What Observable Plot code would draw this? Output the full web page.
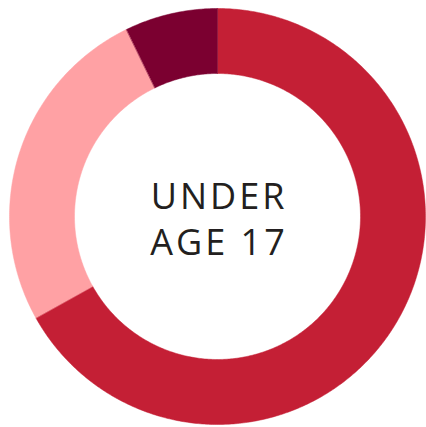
<!DOCTYPE html>
<html>
<head>
<meta charset="utf-8">
<script src="https://cdn.jsdelivr.net/npm/d3@7"></script>
<script src="https://cdn.jsdelivr.net/npm/@observablehq/plot@0.6"></script>
<style>
  html, body { margin: 0; padding: 0; background: #fff; }
  #chart svg { display: block; }
</style>
</head>
<body>
<div id="chart"></div>
<script>
const categories = ["Segment A", "Segment B", "Segment C"];
const values = [66.9, 25.9, 7.2];
const palette = ["#C41F35", "#FFA1A4", "#7B0030"];
const centerLines = ["UNDER", "AGE 17"];

const outerR = 1;
const innerR = 143 / 208;

const arcs = d3.pie().sort(null).value(d => d.value)(
  categories.map((c, i) => ({ category: c, value: values[i] }))
);

// Build slice outlines from the pie angles (clockwise from 12 o'clock)
const outline = [];
arcs.forEach(a => {
  const n = Math.max(8, Math.ceil((a.endAngle - a.startAngle) / 0.01));
  const pts = [];
  for (let k = 0; k <= n; k++) {
    const t = a.startAngle + (a.endAngle - a.startAngle) * k / n;
    pts.push({ t, r: outerR });
  }
  for (let k = n; k >= 0; k--) {
    const t = a.startAngle + (a.endAngle - a.startAngle) * k / n;
    pts.push({ t, r: innerR });
  }
  pts.forEach(p => outline.push({
    category: a.data.category,
    x: p.r * Math.sin(p.t),
    y: p.r * Math.cos(p.t)
  }));
});

const chart = Plot.plot({
  width: 426,
  height: 427,
  marginLeft: 9,
  marginRight: 1,
  marginTop: 8,
  marginBottom: 3,
  x: { domain: [-1, 1], axis: null },
  y: { domain: [-1, 1], axis: null },
  color: { domain: categories, range: palette },
  style: { background: "#fff" },
  marks: [
    Plot.line(outline, {
      x: "x", y: "y", z: "category",
      fill: "category", stroke: "category", strokeWidth: 0.5,
      curve: "linear-closed"
    }),
    Plot.text([centerLines.join("\n")], {
      x: 0, y: 0, text: d => d,
      dy: 1, dx: 1.5,
      fontSize: 36,
      lineHeight: 1.28,
      fill: "#231F20",
      fontFamily: "'Open Sans', sans-serif",
      fontWeight: 400,
      textAnchor: "middle",
      lineAnchor: "middle"
    })
  ]
});

chart.querySelectorAll("text").forEach(t => t.style.letterSpacing = "3px");
document.getElementById("chart").appendChild(chart);
</script>
</body>
</html>
